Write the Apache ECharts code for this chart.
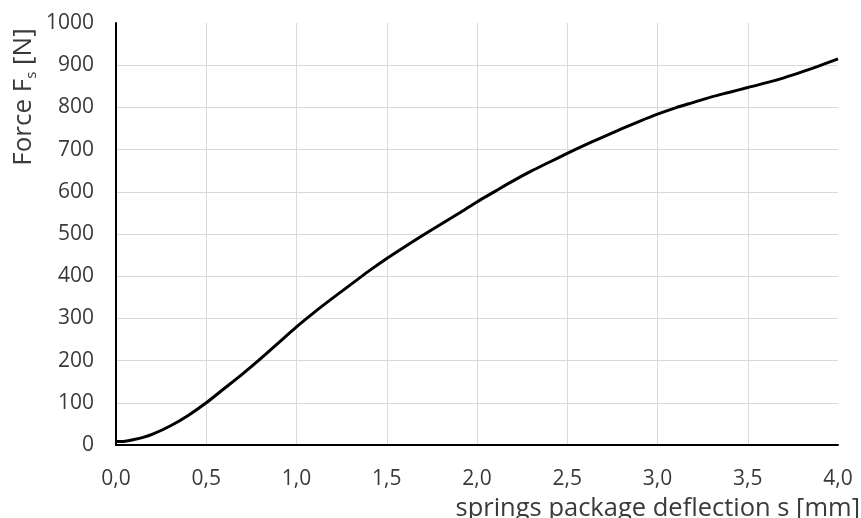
<!DOCTYPE html>
<html>
<head>
<meta charset="utf-8">
<script src="https://cdn.jsdelivr.net/npm/echarts@6/dist/echarts.min.js"></script>
<style>html,body{margin:0;padding:0;background:#fff;}#c{width:861px;height:518px;}</style>
</head>
<body>
<div id="c"></div>
<script>
var deflection = [0, 0.05, 0.1, 0.15, 0.2, 0.3, 0.4, 0.5, 0.6, 0.7, 0.8, 0.9, 1.0, 1.1, 1.2, 1.3, 1.4, 1.5, 1.6, 1.7, 1.8, 1.9, 2.0, 2.1, 2.2, 2.3, 2.4, 2.5, 2.6, 2.7, 2.8, 2.9, 3.0, 3.1, 3.2, 3.3, 3.4, 3.5, 3.6, 3.7, 3.8, 3.9, 4.0];
var force = [8, 9, 13, 18, 25, 45, 70, 100, 134, 168, 204, 242, 280, 315, 348, 380, 412, 442, 470, 497, 523, 549, 576, 601, 626, 649, 670, 691, 711, 730, 749, 767, 784, 799, 812, 825, 836, 847, 858, 870, 884, 899, 915];
var xTicks = [0, 0.5, 1.0, 1.5, 2.0, 2.5, 3.0, 3.5, 4.0];
var yTicks = [0, 100, 200, 300, 400, 500, 600, 700, 800, 900, 1000];
var xTitle = 'springs package deflection s [mm]';
var yTitleMain = 'Force F';
var yTitleSub = 's';
var yTitleEnd = ' [N]';

var FONT = 'Open Sans';
var chart = echarts.init(document.getElementById('c'), null, {renderer: 'canvas'});
var pts = deflection.map(function (d, i) { return [d, force[i]]; });
var ycolors = yTicks.map(function (v, i) { return i === yTicks.length - 1 ? 'rgba(0,0,0,0)' : '#d9d9d9'; });
var xcolors = xTicks.map(function (v, i) { return i === xTicks.length - 1 ? 'rgba(0,0,0,0)' : '#d9d9d9'; });
chart.setOption({
  animation: false,
  backgroundColor: '#ffffff',
  grid: {left: 116, right: 23, top: 23, bottom: 73, containLabel: false, outerBoundsMode: 'none'},
  xAxis: {
    type: 'value', min: xTicks[0], max: xTicks[xTicks.length - 1], interval: 0.5,
    axisLine: {show: true, onZero: false, lineStyle: {color: '#000', width: 2}},
    axisTick: {show: false},
    splitLine: {show: true, lineStyle: {color: xcolors, width: 1}},
    axisLabel: {
      margin: 24, color: '#3a3a3a', fontFamily: FONT, fontSize: 21,
      formatter: function (v) { return v.toFixed(1).replace('.', ','); }
    },
    name: xTitle, nameLocation: 'end', nameGap: 22,
    nameTextStyle: {align: 'right', verticalAlign: 'top', padding: [51, 0, 0, 0], color: '#3a3a3a', fontFamily: FONT, fontSize: 25.5}
  },
  yAxis: {
    type: 'value', min: yTicks[0], max: yTicks[yTicks.length - 1], interval: 100,
    axisLine: {show: true, lineStyle: {color: '#000', width: 2}},
    axisTick: {show: false},
    splitLine: {show: true, lineStyle: {color: ycolors, width: 1}},
    axisLabel: {margin: 22, color: '#3a3a3a', fontFamily: FONT, fontSize: 21,
      formatter: function (v) { return String(v); }}
  },
  graphic: [{
    type: 'text', x: 24, y: 97, rotation: Math.PI / 2,
    style: {
      text: '{m|' + yTitleMain + '}{s|' + yTitleSub + '}{m|' + yTitleEnd + '}',
      align: 'center', verticalAlign: 'middle',
      rich: {
        m: {fontFamily: FONT, fontSize: 26, fill: '#3a3a3a', lineHeight: 30},
        s: {fontFamily: FONT, fontSize: 15, fill: '#3a3a3a', verticalAlign: 'bottom', lineHeight: 30}
      }
    }
  }],
  series: [{
    type: 'line', data: pts, smooth: 0.3, showSymbol: false,
    lineStyle: {color: '#000', width: 3}
  }]
});
</script>
</body>
</html>
